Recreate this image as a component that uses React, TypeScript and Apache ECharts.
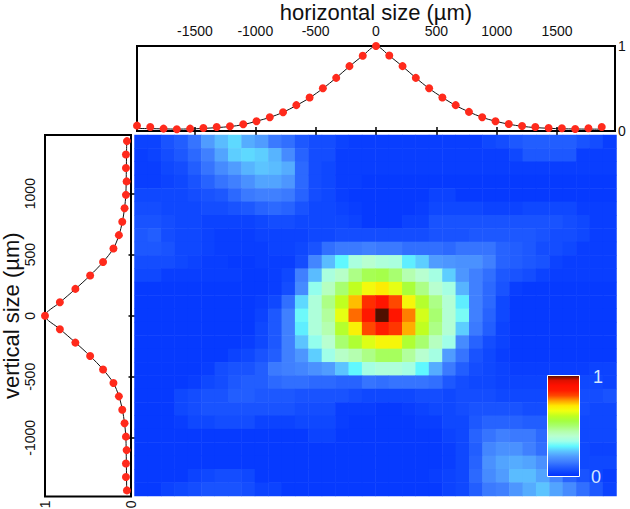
import React, { useEffect, useRef } from "react";
import * as echarts from "echarts";

const horizontalTicks = [-1500, -1000, -500, 0, 500, 1000, 1500];
const verticalTicks = [-1000, -500, 0, 500, 1000];

const horizontalPositions = [-1980, -1870, -1760, -1650, -1540, -1430, -1320, -1210, -1100, -990, -880, -770, -660, -550, -440, -330, -220, -110, 0, 110, 220, 330, 440, 550, 660, 770, 880, 990, 1100, 1210, 1320, 1430, 1540, 1650, 1760, 1870];
const horizontalPoints = [0.063, 0.047, 0.028, 0.02, 0.028, 0.036, 0.047, 0.055, 0.079, 0.115, 0.162, 0.221, 0.304, 0.395, 0.502, 0.625, 0.763, 0.885, 1, 0.889, 0.763, 0.625, 0.502, 0.395, 0.304, 0.225, 0.162, 0.115, 0.083, 0.059, 0.047, 0.036, 0.032, 0.024, 0.032, 0.047];
const horizontalFit = [0.03, 0.028, 0.025, 0.022, 0.025, 0.03, 0.04, 0.052, 0.075, 0.115, 0.16, 0.22, 0.3, 0.39, 0.5, 0.625, 0.76, 0.885, 1, 0.885, 0.76, 0.625, 0.5, 0.395, 0.3, 0.225, 0.16, 0.115, 0.08, 0.055, 0.04, 0.032, 0.026, 0.024, 0.022, 0.022];

const verticalPositions = [1430, 1320, 1210, 1100, 990, 880, 770, 660, 550, 440, 330, 220, 110, 0, -110, -220, -330, -440, -550, -660, -770, -880, -990, -1100, -1210, -1320, -1430];
const verticalPoints = [0.047, 0.059, 0.059, 0.051, 0.059, 0.075, 0.102, 0.141, 0.204, 0.325, 0.475, 0.647, 0.827, 1, 0.827, 0.647, 0.475, 0.325, 0.204, 0.141, 0.102, 0.075, 0.059, 0.051, 0.059, 0.059, 0.047];
const verticalFit = [0.05, 0.052, 0.054, 0.056, 0.06, 0.075, 0.1, 0.14, 0.205, 0.325, 0.475, 0.645, 0.825, 1, 0.825, 0.645, 0.475, 0.325, 0.205, 0.14, 0.1, 0.075, 0.06, 0.056, 0.054, 0.052, 0.05];

// 36 columns, 27 rows from the top; values in percent of the peak
const intensity = [
  [4, 4, 7, 9, 13, 20, 24, 27, 22, 20, 14, 12, 8, 6, 6, 4, 3, 3, 3, 3, 3, 3, 3, 3, 3, 3, 5, 6, 8, 9, 9, 9, 9, 7, 6, 3],
  [3, 4, 6, 8, 11, 15, 21, 26, 27, 26, 23, 17, 10, 6, 6, 3, 3, 3, 3, 3, 3, 3, 3, 3, 3, 3, 3, 3, 5, 8, 8, 8, 8, 3, 3, 3],
  [3, 3, 5, 6, 9, 13, 17, 20, 23, 25, 24, 22, 11, 6, 5, 3, 3, 3, 3, 3, 3, 3, 3, 3, 3, 3, 3, 3, 3, 3, 3, 3, 3, 3, 3, 3],
  [3, 3, 4, 5, 7, 10, 13, 15, 18, 21, 21, 19, 11, 6, 5, 3, 3, 2, 2, 2, 2, 2, 2, 2, 2, 2, 2, 2, 2, 2, 2, 2, 2, 2, 2, 2],
  [5, 5, 5, 5, 6, 7, 8, 11, 14, 15, 15, 14, 10, 6, 5, 3, 2, 2, 2, 2, 2, 2, 4, 4, 2, 2, 2, 2, 2, 2, 2, 2, 2, 2, 2, 2],
  [6, 6, 5, 5, 5, 6, 6, 7, 8, 10, 11, 10, 7, 5, 5, 4, 3, 2, 2, 2, 2, 3, 5, 5, 5, 5, 4, 4, 4, 5, 5, 5, 5, 3, 3, 3],
  [7, 7, 6, 5, 5, 4, 4, 4, 4, 5, 6, 6, 5, 5, 5, 5, 4, 2, 2, 2, 4, 4, 7, 7, 7, 7, 7, 7, 7, 7, 7, 7, 6, 5, 3, 3],
  [8, 9, 6, 5, 5, 4, 3, 3, 3, 4, 4, 4, 4, 5, 5, 6, 6, 6, 6, 6, 6, 6, 7, 7, 7, 8, 8, 8, 8, 8, 7, 6, 6, 5, 3, 3],
  [8, 8, 7, 5, 5, 4, 3, 3, 3, 3, 4, 4, 5, 7, 12, 14, 14, 15, 14, 14, 12, 12, 12, 11, 13, 13, 13, 10, 9, 8, 6, 6, 5, 3, 3, 3],
  [6, 6, 6, 5, 4, 3, 3, 2, 2, 3, 3, 3, 6, 16, 24, 30, 37, 40, 38, 37, 29, 26, 20, 19, 18, 18, 15, 10, 9, 8, 7, 4, 3, 3, 3, 3],
  [5, 5, 3, 3, 3, 3, 3, 3, 2, 2, 3, 5, 15, 24, 37, 41, 48, 53, 54, 50, 44, 40, 36, 26, 19, 15, 12, 8, 7, 6, 4, 3, 3, 3, 3, 3],
  [2, 2, 2, 2, 2, 2, 2, 2, 2, 2, 3, 6, 17, 34, 42, 50, 60, 66, 69, 64, 56, 48, 40, 36, 23, 15, 11, 7, 3, 2, 2, 2, 2, 2, 2, 2],
  [2, 2, 2, 2, 2, 2, 2, 2, 2, 3, 5, 12, 27, 38, 48, 60, 73, 83, 88, 80, 67, 58, 48, 39, 29, 15, 11, 5, 2, 2, 2, 2, 2, 2, 2, 2],
  [2, 2, 2, 2, 2, 2, 2, 2, 2, 4, 8, 15, 31, 38, 46, 64, 78, 87, 100, 88, 77, 62, 50, 39, 32, 15, 10, 5, 2, 2, 2, 2, 2, 2, 2, 2],
  [2, 2, 2, 2, 2, 2, 2, 2, 2, 5, 8, 15, 29, 38, 44, 58, 68, 80, 85, 82, 74, 60, 48, 39, 26, 14, 9, 4, 2, 2, 2, 2, 2, 2, 2, 2],
  [2, 2, 2, 2, 2, 2, 2, 2, 3, 5, 8, 15, 25, 34, 40, 50, 57, 63, 67, 67, 57, 50, 42, 35, 17, 10, 6, 4, 2, 2, 2, 2, 2, 2, 2, 2],
  [2, 2, 2, 2, 2, 2, 2, 4, 5, 7, 9, 15, 19, 26, 35, 41, 44, 48, 52, 52, 46, 40, 36, 20, 13, 7, 5, 3, 2, 2, 2, 2, 2, 2, 2, 2],
  [2, 2, 2, 2, 2, 3, 6, 7, 7, 9, 14, 15, 16, 18, 20, 25, 30, 36, 38, 38, 36, 30, 22, 14, 9, 6, 5, 4, 3, 3, 3, 3, 3, 3, 4, 4],
  [2, 2, 2, 2, 3, 5, 6, 8, 9, 9, 11, 12, 12, 11, 11, 10, 10, 13, 12, 13, 13, 13, 12, 8, 6, 5, 5, 4, 4, 4, 4, 4, 4, 5, 5, 4],
  [2, 2, 2, 5, 6, 7, 7, 9, 9, 8, 8, 8, 7, 7, 7, 7, 6, 5, 5, 5, 5, 6, 6, 5, 6, 6, 6, 5, 5, 5, 5, 5, 5, 6, 6, 7],
  [2, 2, 2, 5, 6, 7, 7, 7, 7, 7, 7, 7, 6, 6, 6, 3, 3, 3, 2, 2, 3, 4, 5, 5, 6, 7, 7, 7, 7, 6, 6, 6, 6, 6, 5, 5],
  [2, 2, 2, 3, 5, 5, 6, 6, 6, 4, 4, 4, 5, 5, 5, 3, 2, 2, 2, 2, 2, 3, 3, 5, 5, 8, 10, 10, 10, 9, 9, 8, 5, 5, 5, 5],
  [2, 2, 2, 2, 2, 2, 2, 2, 2, 2, 2, 2, 2, 4, 4, 2, 2, 2, 2, 2, 2, 2, 2, 4, 5, 10, 13, 15, 14, 14, 11, 9, 5, 5, 5, 5],
  [2, 2, 2, 2, 2, 2, 2, 2, 2, 2, 2, 2, 2, 2, 2, 2, 2, 2, 2, 2, 2, 2, 2, 3, 5, 9, 16, 18, 18, 15, 12, 9, 5, 5, 4, 4],
  [2, 2, 2, 2, 2, 2, 2, 2, 2, 2, 2, 2, 2, 2, 2, 2, 2, 2, 2, 2, 2, 2, 2, 3, 5, 10, 18, 21, 22, 21, 18, 13, 5, 5, 5, 5],
  [2, 2, 2, 2, 4, 5, 6, 6, 5, 2, 2, 2, 2, 2, 2, 2, 2, 2, 2, 2, 2, 2, 3, 4, 5, 11, 17, 20, 24, 24, 21, 16, 10, 7, 5, 3],
  [2, 2, 4, 5, 6, 7, 7, 7, 6, 4, 4, 2, 2, 2, 2, 2, 2, 2, 2, 2, 2, 2, 2, 4, 5, 9, 14, 15, 19, 22, 25, 21, 17, 12, 8, 4],
];

const palette = [
  "#0030ff", "#0f48ff", "#2763ff", "#4080ff", "#509cff", "#5cc4ff", "#60f8ff",
  "#a0ffe8", "#b8ffd0", "#b4ffa8", "#a8ff70", "#a4ff40", "#c0ff20", "#f0ff10",
  "#ffe800", "#ffa000", "#ff4800", "#ff1c00", "#ff1000", "#e01000", "#501000",
];

const colorBarLabels = ["1", "0"];
const titles = { horizontal: "horizontal size (µm)", vertical: "vertical size (µm)" };

const FONT = "Liberation Sans, Arial, Helvetica, sans-serif";
const RED = "#ff2a1c";

export default function App() {
  const ref = useRef<HTMLDivElement>(null);

  useEffect(() => {
    const chart = echarts.init(ref.current!, undefined, { renderer: "svg" });

    const heatData: number[][] = [];
    intensity.forEach((row, r) => row.forEach((v, c) => heatData.push([c, r, v / 100])));

    const label = { fontFamily: FONT, fontSize: 14, color: "#111", formatter: (v: number) => String(v) };

    chart.setOption({
      animation: false,
      backgroundColor: "#fff",
      grid: [
        { left: 137, top: 46, width: 478, height: 85, show: true, borderColor: "#000", borderWidth: 2, backgroundColor: "#fff", outerBoundsMode: "none" },
        { left: 45, top: 135, width: 86, height: 361.5, show: true, borderColor: "#000", borderWidth: 2, backgroundColor: "#fff", outerBoundsMode: "none" },
        { left: 134.5, top: 135, width: 482, height: 361, show: false, outerBoundsMode: "none" },
      ],
      xAxis: [
        {
          gridIndex: 0, type: "value", position: "top", min: -1980, max: 1980,
          name: titles.horizontal, nameLocation: "middle", nameGap: 23,
          nameTextStyle: { fontFamily: FONT, fontSize: 22, color: "#111" },
          axisLine: { show: false }, splitLine: { show: false },
          axisTick: { show: true, inside: true, length: 4, lineStyle: { color: "#000", width: 1.5 }, customValues: horizontalTicks },
          axisLabel: { ...label, margin: 8, customValues: horizontalTicks },
        },
        {
          gridIndex: 0, type: "value", position: "bottom", min: -1980, max: 1980,
          axisLine: { show: false }, splitLine: { show: false },
          axisTick: { show: true, inside: true, length: 4, lineStyle: { color: "#000", width: 1.5 }, customValues: horizontalTicks },
          axisLabel: { show: false },
        },
        {
          gridIndex: 1, type: "value", position: "bottom", min: 0, max: 1, interval: 1, inverse: true,
          axisLine: { show: false }, splitLine: { show: false }, axisTick: { show: false },
          axisLabel: { ...label, rotate: 90, margin: 4 },
        },
        { gridIndex: 2, type: "category", show: false, data: intensity[0].map((_, i) => i) },
      ],
      yAxis: [
        {
          gridIndex: 0, type: "value", position: "right", min: 0, max: 1, interval: 1,
          axisLine: { show: false }, splitLine: { show: false }, axisTick: { show: false },
          axisLabel: { ...label, margin: 3 },
        },
        {
          gridIndex: 1, type: "value", position: "left", min: -1480, max: 1480,
          name: titles.vertical, nameLocation: "middle", nameGap: 22,
          nameTextStyle: { fontFamily: FONT, fontSize: 22, color: "#111" },
          axisLine: { show: false }, splitLine: { show: false },
          axisTick: { show: true, inside: true, length: 5, lineStyle: { color: "#000", width: 1.5 }, customValues: verticalTicks },
          axisLabel: { ...label, rotate: 90, margin: 8, customValues: verticalTicks },
        },
        {
          gridIndex: 1, type: "value", position: "right", min: -1480, max: 1480,
          axisLine: { show: false }, splitLine: { show: false },
          axisTick: { show: true, inside: true, length: 2.5, lineStyle: { color: "#000", width: 1.5 }, customValues: verticalTicks },
          axisLabel: { show: false },
        },
        { gridIndex: 2, type: "category", show: false, inverse: true, data: intensity.map((_, i) => i) },
      ],
      visualMap: {
        show: false, type: "continuous", min: 0, max: 1, seriesIndex: 4, dimension: 2,
        inRange: { color: palette },
      },
      series: [
        {
          type: "line", xAxisIndex: 0, yAxisIndex: 0, showSymbol: false, smooth: 0.3, z: 3, clip: false,
          lineStyle: { color: "#111", width: 1 },
          data: horizontalPositions.map((x, i) => [x, horizontalFit[i]]),
        },
        {
          type: "scatter", xAxisIndex: 0, yAxisIndex: 0, symbolSize: 8, z: 4, clip: false,
          itemStyle: { color: RED, opacity: 1 },
          data: horizontalPositions.map((x, i) => [x, horizontalPoints[i]]),
        },
        {
          type: "line", xAxisIndex: 2, yAxisIndex: 1, showSymbol: false, smooth: 0.3, z: 3, clip: false,
          lineStyle: { color: "#111", width: 1 },
          data: verticalPositions.map((y, i) => [verticalFit[i], y]),
        },
        {
          type: "scatter", xAxisIndex: 2, yAxisIndex: 1, symbolSize: 8, z: 4, clip: false,
          itemStyle: { color: RED, opacity: 1 },
          data: verticalPositions.map((y, i) => [verticalPoints[i], y]),
        },
        {
          type: "heatmap", xAxisIndex: 3, yAxisIndex: 3, z: 5,
          itemStyle: { borderWidth: 0 },
          emphasis: { disabled: true },
          data: heatData,
        },
      ],
      graphic: [
        {
          type: "rect", z: 20, shape: { x: 547.5, y: 375.5, width: 32, height: 101 },
          style: {
            stroke: "#ffffff", lineWidth: 1,
            fill: new echarts.graphic.LinearGradient(0, 1, 0, 0,
              palette.map((color, i) => ({ offset: i / (palette.length - 1), color }))),
          },
        },
        {
          type: "text", z: 20, x: 593, y: 368,
          style: { text: colorBarLabels[0], fill: "#d4e6ff", font: `18px ${FONT}` },
        },
        {
          type: "text", z: 20, x: 591, y: 468,
          style: { text: colorBarLabels[1], fill: "#d4e6ff", font: `18px ${FONT}` },
        },
      ],
    });

    return () => chart.dispose();
  }, []);

  return <div ref={ref} style={{ position: "absolute", left: 0, top: 0, width: 630, height: 509 }} />;
}
